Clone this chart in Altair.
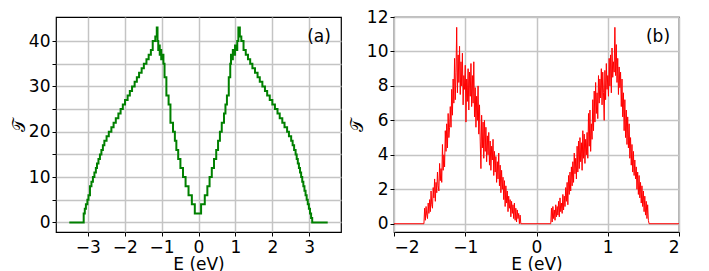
import altair as alt
import pandas as pd

# ---------- panel (a): step-like transmission ----------
a_x = [-3.5, -3.11, -3.08, -3.05, -3.01, -2.98, -2.94, -2.9, -2.86, -2.82, -2.78, -2.75,
       -2.71, -2.67, -2.63, -2.59, -2.55, -2.49, -2.43, -2.36, -2.3, -2.24, -2.17, -2.11,
       -2.05, -1.99, -1.92, -1.86, -1.8, -1.73, -1.67, -1.61, -1.54, -1.48, -1.41, -1.35,
       -1.29, -1.24, -1.17, -1.13, -1.11, -1.09, -1.07, -1.05, -1.03, -1.01, -0.98, -0.95,
       -0.92, -0.87, -0.81, -0.76, -0.69, -0.64, -0.6, -0.55, -0.49, -0.42, -0.35, -0.27,
       -0.18, -0.1, 0.07, 0.17, 0.24, 0.3, 0.36, 0.42, 0.48, 0.53, 0.58, 0.63, 0.69, 0.73,
       0.77, 0.82, 0.86, 0.88, 0.91, 0.93, 0.96, 0.99, 1.02, 1.05, 1.08, 1.12, 1.16, 1.22,
       1.28, 1.34, 1.4, 1.46, 1.53, 1.6, 1.66, 1.73, 1.8, 1.86, 1.93, 2.0, 2.07, 2.14, 2.2,
       2.27, 2.33, 2.4, 2.45, 2.51, 2.55, 2.59, 2.63, 2.66, 2.69, 2.72, 2.75, 2.78, 2.81,
       2.84, 2.87, 2.9, 2.93, 2.96, 2.99, 3.02, 3.05, 3.08, 3.5]
a_y = [0, 2, 3, 4, 5, 6, 8, 9, 10, 11, 12, 13,
       14, 15, 16, 17, 18, 19, 20, 21, 22, 23, 24, 25,
       26, 27, 28, 29, 30, 31, 32, 33, 34, 35, 36, 37,
       38, 40, 41, 43, 40, 38, 39, 37, 38, 36, 37, 35,
       32, 28, 26, 22, 20, 18, 16, 14, 12, 10, 8, 6,
       4, 2, 4, 6, 8, 10, 12, 14, 16, 18, 20, 22, 24, 26,
       28, 32, 35, 37, 36, 38, 37, 39, 38, 40, 43, 41, 40, 38,
       37, 36, 35, 34, 33, 32, 31, 30, 29, 28, 27, 26, 25, 24, 23,
       22, 21, 20, 19, 18, 17, 16, 15, 14, 13, 12, 11, 10, 9,
       8, 7, 6, 5, 4, 3, 2, 1, 0, 0]

# ---------- panel (b): noisy transmission (sampled every 0.01 eV) ----------
b_left_x = [round(-1.58 + 0.01 * i, 2) for i in range(137)]
b_left_y = [0.0, 0.9, 0.2, 1.0, 0.5, 0.3, 1.2, 0.6,
            1.4, 0.7, 1.9, 1.1, 0.9, 2.1, 1.5, 2.6, 1.3, 2.4,
            1.8, 3.0, 2.2, 1.9, 3.5, 2.5, 3.2, 2.4, 4.6, 3.1,
            4.0, 3.3, 5.4, 4.2, 5.8, 4.4, 6.4, 5.0, 5.6, 6.8,
            5.6, 7.8, 6.3, 8.4, 7.0, 9.6, 7.2, 8.8, 11.4, 7.6,
            9.8, 8.2, 10.3, 7.5, 9.4, 8.0, 9.9, 6.9, 8.6, 7.8,
            9.2, 5.9, 8.4, 7.1, 9.0, 6.6, 8.8, 7.4, 9.3, 6.8,
            8.6, 7.0, 9.4, 6.2, 7.9, 5.6, 7.4, 6.0, 8.0, 5.2,
            6.9, 4.8, 3.2, 6.3, 4.4, 5.9, 3.8, 6.0, 4.2, 5.6,
            3.6, 5.1, 4.0, 5.3, 3.4, 4.8, 3.1, 4.5, 3.7, 4.9,
            2.8, 4.2, 3.0, 3.9, 2.4, 3.6, 2.6, 4.1, 2.2, 3.4,
            1.8, 3.1, 2.0, 2.7, 1.4, 2.5, 1.0, 2.2, 1.2, 1.9,
            0.7, 1.6, 0.9, 1.4, 0.4, 1.3, 0.6, 1.1, 0.3, 1.2,
            0.2, 0.9, 0.1, 0.8, 0.3, 0.6, 0.0, 0.5, 0.0]
b_right_x = [round(0.20 + 0.01 * i, 2) for i in range(139)]
b_right_y = [0.0, 0.9, 0.1, 1.0, 0.3, 0.8, 0.2, 1.1, 0.4, 1.0,
             0.5, 1.3, 0.4, 1.5, 0.7, 1.2, 0.6, 1.7, 0.8, 1.6,
             1.0, 2.1, 1.3, 2.4, 1.1, 2.8, 1.7, 3.0, 1.9, 3.3,
             2.2, 3.6, 2.4, 4.1, 2.9, 3.8, 2.6, 4.5, 3.0, 4.8,
             3.2, 5.0, 3.6, 4.7, 3.1, 5.4, 3.8, 5.2, 3.5, 4.9,
             4.0, 5.3, 3.8, 6.4, 4.5, 6.6, 4.2, 5.8, 4.9, 7.2,
             5.4, 7.7, 5.9, 8.2, 6.4, 7.6, 6.1, 8.6, 7.0, 8.4,
             7.3, 9.0, 6.9, 8.8, 7.6, 6.0, 8.9, 7.2, 9.3, 7.8,
             8.6, 7.4, 9.6, 8.0, 9.8, 7.6, 10.2, 8.5, 9.4, 8.8,
             11.4, 8.6, 10.4, 8.2, 9.6, 7.5, 9.1, 7.9, 8.8, 6.8,
             8.4, 6.2, 7.6, 5.4, 7.2, 5.0, 6.6, 4.6, 6.2, 4.4,
             5.8, 3.8, 5.0, 3.4, 4.6, 3.0, 4.2, 2.8, 3.7, 2.6,
             3.3, 2.0, 3.0, 1.7, 2.8, 1.5, 2.4, 1.2, 2.2, 1.0,
             1.9, 0.7, 1.6, 0.5, 1.3, 0.3, 1.1, 0.2, 0.0]

b_x = [-2.0] + b_left_x + b_right_x + [2.0]
b_y = [0.0] + b_left_y + b_right_y + [0.0]

df_a = pd.DataFrame({"E": a_x, "T": a_y})
df_b = pd.DataFrame({"E": b_x, "T": b_y})

W, H = 285, 215
FONT = "DejaVu Sans"
FS = 17

line_a = alt.Chart(df_a).mark_line(color="#008000", strokeWidth=2, interpolate="step-after").encode(
    x=alt.X("E:Q", scale=alt.Scale(domain=[-3.86, 3.86], nice=False, zero=False),
            axis=alt.Axis(values=[-3, -2, -1, 0, 1, 2, 3], title="E (eV)", format="d")),
    y=alt.Y("T:Q", scale=alt.Scale(domain=[-2.1, 45.3], nice=False, zero=False),
            axis=alt.Axis(values=[0, 5, 10, 15, 20, 25, 30, 35, 40], title="𝒯",
                          labelExpr="datum.value % 10 == 0 ? datum.label : ''")),
)
lab_a = alt.Chart(pd.DataFrame({"t": ["(a)"]})).mark_text(
    font=FONT, fontSize=FS, color="black", align="center", baseline="middle"
).encode(x=alt.value(263), y=alt.value(20), text="t:N")
left = alt.layer(line_a, lab_a).properties(width=W, height=H)

line_b = alt.Chart(df_b).mark_line(color="#ff0000", strokeWidth=1).encode(
    x=alt.X("E:Q", scale=alt.Scale(domain=[-2, 2], nice=False, zero=False),
            axis=alt.Axis(values=[-2, -1.5, -1, -0.5, 0, 0.5, 1, 1.5, 2], title="E (eV)", format="d",
                          labelExpr="datum.value % 1 == 0 ? datum.label : ''")),
    y=alt.Y("T:Q", scale=alt.Scale(domain=[-0.48, 12], nice=False, zero=False),
            axis=alt.Axis(values=[0, 2, 4, 6, 8, 10, 12], title="𝒯")),
)
lab_b = alt.Chart(pd.DataFrame({"t": ["(b)"]})).mark_text(
    font=FONT, fontSize=FS, color="black", align="center", baseline="middle"
).encode(x=alt.value(264), y=alt.value(20), text="t:N")
right = alt.layer(line_b, lab_b).properties(width=W, height=H)

chart = alt.hconcat(left, right, spacing=53, bounds="flush").properties(
    padding={"left": 1, "top": -1, "right": 0, "bottom": 0}
).configure_view(stroke="black", strokeWidth=1.2).configure_axis(
    domain=False, grid=True, gridColor="#c4c4c4", gridWidth=1.5,
    tickColor="black", tickSize=4, labelFont=FONT, labelFontSize=FS, labelColor="black",
    titleFont=FONT, titleFontSize=FS, titleColor="black", titleFontWeight="normal",
).configure_axisX(labelPadding=3, titlePadding=1).configure_axisY(labelPadding=2, titlePadding=0)

chart.save("out.html", embed_options={"renderer": "svg", "actions": False})
